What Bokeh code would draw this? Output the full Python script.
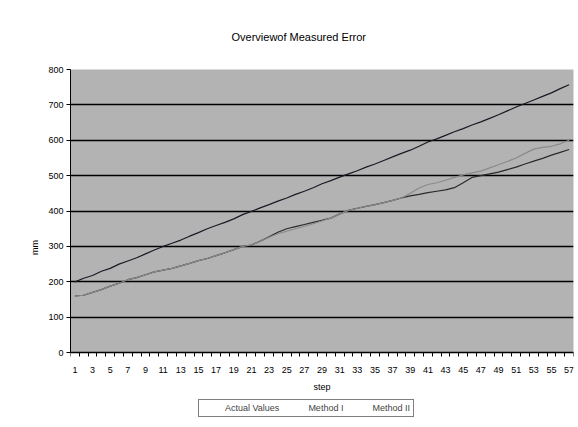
from bokeh.plotting import figure
from bokeh.models import (FixedTicker, Legend, LegendItem, Title, ColumnDataSource, Range1d,
                          BoxAnnotation)
from bokeh.embed import file_html
from bokeh.resources import INLINE

steps = list(range(1, 58))
actual_values = [200, 210, 218, 230, 238, 250, 259, 268, 279, 290,
                 300, 309, 318, 329, 339, 350, 359, 368, 378, 390,
                 399, 409, 418, 428, 437, 447, 456, 466, 477, 486,
                 496, 505, 514, 524, 533, 543, 553, 563, 572, 583,
                 595, 604, 614, 624, 633, 643, 652, 662, 672, 683,
                 694, 704, 714, 724, 734, 746, 757]
method_1 = [160, 162, 170, 178, 188, 196, 206, 212, 220, 228,
            233, 238, 245, 252, 260, 266, 274, 282, 291, 300,
            304, 315, 326, 336, 343, 350, 357, 364, 372, 380,
            392, 402, 408, 413, 418, 424, 430, 437, 450, 465,
            475, 480, 487, 495, 502, 508, 513, 522, 531, 540,
            550, 563, 575, 580, 583, 590, 600]
method_2 = [160, 162, 170, 178, 188, 196, 206, 212, 220, 228,
            233, 238, 245, 252, 260, 266, 274, 282, 291, 300,
            304, 315, 327, 340, 350, 356, 362, 368, 374, 380,
            392, 402, 408, 413, 418, 424, 430, 437, 443, 447,
            452, 456, 460, 466, 480, 495, 500, 505, 510, 517,
            524, 533, 541, 549, 558, 566, 574]
y_ticks = [0, 100, 200, 300, 400, 500, 600, 700, 800]
series_names = ["Actual Values", "Method I", "Method II"]

FONT = "Liberation Sans"

src = ColumnDataSource(dict(step=steps, actual=actual_values, m1=method_1, m2=method_2))

# frame extends below the axis so the legend can sit inside it
p = figure(width=576, height=425, output_backend="svg", toolbar_location=None,
           x_range=Range1d(0.5, 57.5), y_range=Range1d(-206, 800),
           min_border_left=70, min_border_right=3, min_border_top=69, min_border_bottom=0,
           background_fill_color="white", border_fill_color="white")
p.outline_line_color = None

t = Title(text="Overviewof Measured Error", align="left", offset=161,
          text_font=FONT, text_font_size="11px", text_font_style="normal",
          text_color="#000", standoff=54)
p.add_layout(t, "above")

# plot area
p.add_layout(BoxAnnotation(bottom=y_ticks[0], top=y_ticks[-1], fill_color="#b3b3b3", fill_alpha=1,
                           line_color="#808080", line_width=1, level="image"))

# lines
p.line("step", "m2", source=src, line_color="#2a2a2a", line_width=1.2)
p.line("step", "m1", source=src, line_color="#8a8a8a", line_width=1.2)
p.line("step", "actual", source=src, line_color="#1a1a26", line_width=1.2)

# legend swatches
empty = ColumnDataSource(dict(x=[], y=[]))
r_a = p.line("x", "y", source=empty, line_color="#111111", line_width=1.5)
r_1 = p.line("x", "y", source=empty, line_color="#8a8a8a", line_width=1.5)
r_2 = p.line("x", "y", source=empty, line_color="#e6e6e6", line_width=1.5)
legend = Legend(items=[LegendItem(label=series_names[0], renderers=[r_a]),
                       LegendItem(label=series_names[1], renderers=[r_1]),
                       LegendItem(label=series_names[2], renderers=[r_2])],
                orientation="horizontal", location=(128, 8),
                border_line_color="black", border_line_width=1,
                background_fill_color="white", background_fill_alpha=1,
                label_text_font=FONT, label_text_font_size="9px",
                glyph_width=20, glyph_height=10, label_standoff=3,
                spacing=6, padding=3, margin=0, label_height=10)
p.add_layout(legend, "center")

# axes
p.xaxis.fixed_location = 0
p.xaxis.ticker = FixedTicker(ticks=steps[::2], minor_ticks=[s - 0.5 for s in steps] + [steps[-1] + 0.5])
p.xaxis.major_tick_out = 0
p.xaxis.major_tick_in = 0
p.xaxis.minor_tick_out = 4
p.xaxis.minor_tick_in = 0
p.xaxis.minor_tick_line_color = "black"
p.xaxis.major_label_standoff = 10
p.xaxis.axis_label = "step"
p.xaxis.axis_label_standoff = 6

p.yaxis.ticker = FixedTicker(ticks=y_ticks)
p.yaxis.bounds = (y_ticks[0], y_ticks[-1])
p.yaxis.major_tick_out = 4
p.yaxis.major_tick_in = 0
p.yaxis.minor_tick_line_color = None
p.yaxis.major_label_standoff = 3
p.yaxis.axis_label = "mm"
p.yaxis.axis_label_standoff = 5

for ax in (p.xaxis, p.yaxis):
    ax.axis_line_color = "black"
    ax.major_tick_line_color = "black"
    ax.major_label_text_font = FONT
    ax.major_label_text_font_size = "9px"
    ax.major_label_text_color = "black"
    ax.axis_label_text_font = FONT
    ax.axis_label_text_font_size = "9px"
    ax.axis_label_text_font_style = "normal"
    ax.axis_label_text_color = "black"

p.xgrid.grid_line_color = None
p.ygrid.grid_line_color = "black"
p.ygrid.grid_line_width = 1.5

open("out.html", "w").write(file_html(p, INLINE))
